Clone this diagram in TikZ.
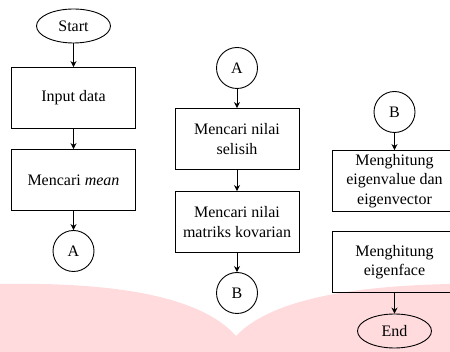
\documentclass[tikz,border=0pt]{standalone}
\usepackage{fontspec}
\setmainfont{LiberationSerif}[Extension=.ttf, UprightFont=*-Regular, ItalicFont=*-Italic, BoldFont=*-Bold]
\usetikzlibrary{arrows.meta,shapes.geometric,positioning}
\definecolor{pagepink}{RGB}{255,219,221}

\begin{document}
\begin{tikzpicture}[>={Stealth[length=6pt,width=6pt]}, node distance=71pt, on grid, line width=0.9pt, font={\rmfamily\fontsize{16}{19.5}\selectfont}]
  \tikzstyle{terminal} = [draw, ellipse, minimum width=74pt, minimum height=34pt, inner sep=0pt];
  \tikzstyle{process} = [draw, rectangle, minimum width=124pt, minimum height=61pt, inner sep=2pt, align=center];
  \tikzstyle{connector} = [draw, circle, minimum size=41pt, inner sep=0pt];
  \tikzstyle{flowEdge} = [black, ->];

  \useasboundingbox (0,0) rectangle (450pt,-352pt);
  % latar: halaman buku
  \fill[pagepink] (0,-284pt) .. controls (110pt,-282pt) and (200pt,-295pt) .. (236pt,-336pt)
    .. controls (270pt,-300pt) and (350pt,-286pt) .. (450pt,-284pt)
    -- (450pt,-352pt) -- (0,-352pt) -- cycle;

	\node[terminal](start) at (73.5pt,-26pt) {Start};
	\node[process](input) [below=72pt of start] {Input data};
	\node[process](mean) [below=82pt of input] {Mencari \textit{mean}};
	\node[connector](a1) [below=of mean] {A};

	\node[connector](a2) at (237pt,-68pt) {A};
	\node[process](selisih) [below=of a2] {Mencari nilai\\selisih};
	\node[process](kovarian) [below=83pt of selisih] {Mencari nilai\\matriks kovarian};
	\node[connector](b1) [below=of kovarian] {B};

	\node[connector](b2) at (394.5pt,-112pt) {B};
	\node[process](eigen) [below=69pt of b2] {Menghitung\\eigenvalue dan\\eigenvector};
	\node[process](face) [below=81pt of eigen] {Menghitung\\eigenface};
	\node[terminal](end) [below=69pt of face] {End};

	\path[flowEdge]
	(start) edge (input)
	(input) edge (mean)
	(mean) edge (a1)
	(a2) edge (selisih)
	(selisih) edge (kovarian)
	(kovarian) edge (b1)
	(b2) edge (eigen)
	(face) edge (end);
\end{tikzpicture}
\end{document}
